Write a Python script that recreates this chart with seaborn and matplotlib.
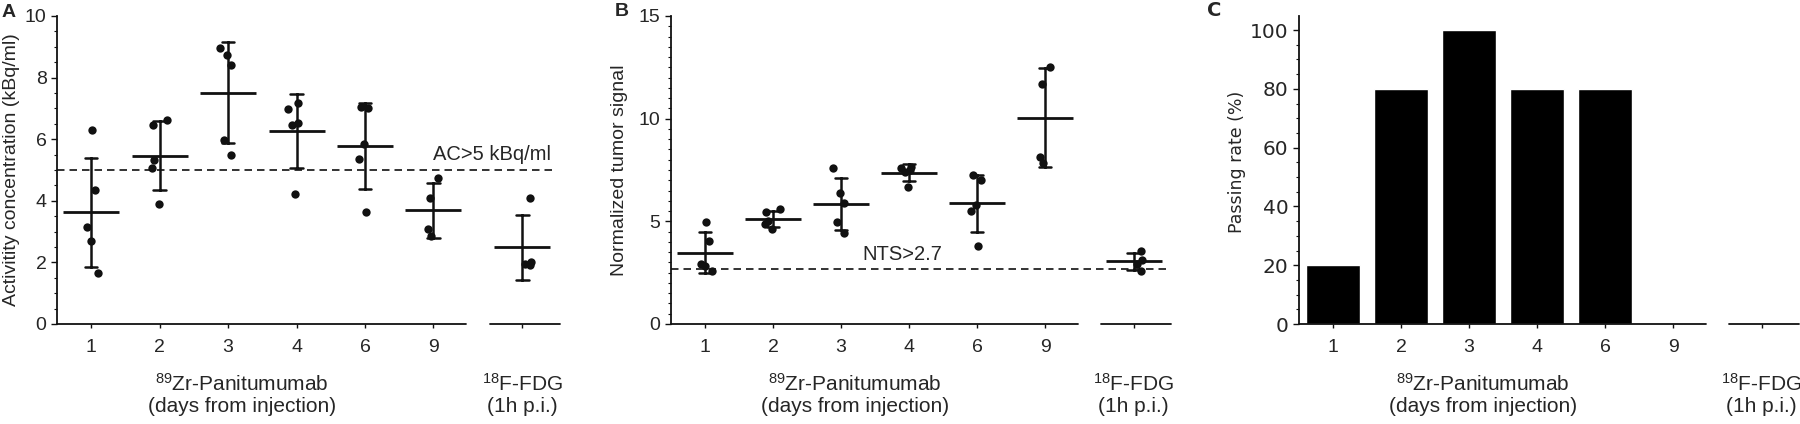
import numpy as np
import pandas as pd
import matplotlib
matplotlib.use("Agg")
import matplotlib.pyplot as plt
from matplotlib.ticker import MultipleLocator
import seaborn as sns

sns.set_style("ticks")
plt.rcParams["font.family"] = ["Liberation Sans", "DejaVu Sans"]
plt.rcParams["mathtext.default"] = "regular"

# ---------------------------------------------------------------
# data
# ---------------------------------------------------------------
groups = ["1", "2", "3", "4", "6", "9", "FDG"]
tick_labels = ["1", "2", "3", "4", "6", "9", ""]

# A: activity concentration (kBq/ml), one point per tumour
ac_d1 = [6.29, 4.35, 3.14, 2.70, 1.66]
ac_d2 = [6.62, 6.45, 5.34, 5.05, 3.89]
ac_d3 = [8.96, 8.72, 8.42, 5.97, 5.50]
ac_d4 = [7.16, 6.99, 6.53, 6.45, 4.21]
ac_d6 = [7.05, 7.02, 5.84, 5.35, 3.64]
ac_d9 = [4.75, 4.10, 3.07, 2.85]
ac_fdg = [4.08, 2.02, 1.95, 1.92]

# B: normalized tumor signal
nts_d1 = [4.95, 4.05, 2.92, 2.84, 2.59]
nts_d2 = [5.59, 5.46, 5.03, 4.86, 4.65]
nts_d3 = [7.62, 6.37, 5.87, 4.95, 4.41]
nts_d4 = [7.67, 7.62, 7.51, 7.38, 6.68]
nts_d6 = [7.26, 7.02, 5.81, 5.51, 3.81]
nts_d9 = [12.53, 11.67, 8.14, 7.83]
nts_fdg = [3.57, 3.13, 2.92, 2.56]

# C: passing rate (%)
passing_rate = [20, 80, 100, 80, 80, 0, 0]

ac_threshold = 5
nts_threshold = 2.7

# x positions: six days, then FDG set apart after a gap
x_pos = [0, 1, 2, 3, 4, 5, 6.3]
pos_of = dict(zip(groups, x_pos))


def long_frame(lists):
    rows = []
    for g, vals in zip(groups, lists):
        for v in vals:
            rows.append({"group": g, "pos": pos_of[g], "value": v})
    return pd.DataFrame(rows)


df_ac = long_frame([ac_d1, ac_d2, ac_d3, ac_d4, ac_d6, ac_d9, ac_fdg])
df_nts = long_frame([nts_d1, nts_d2, nts_d3, nts_d4, nts_d6, nts_d9, nts_fdg])

INK = "#111111"
W, H = 1800, 424
fig = plt.figure(figsize=(W / 100, H / 100), dpi=100)


def px_axes(left, width, bottom=324, top=16):
    return fig.add_axes([left / W, (H - bottom) / H, width / W, (bottom - top) / H])


def style_axis(ax, ymax, major, minor, tick_font=None, tick_size=14):
    ax.set_xlim(-0.5, 6.85)
    ax.set_ylim(0, ymax)
    sns.despine(ax=ax, bottom=True)
    ax.spines["left"].set_linewidth(1.3)
    ax.spines["left"].set_color(INK)
    ax.yaxis.set_major_locator(MultipleLocator(major))
    ax.yaxis.set_minor_locator(MultipleLocator(minor))
    ax.tick_params(axis="y", which="major", length=4, width=1, pad=3.5,
                   labelsize=tick_size, color=INK)
    ax.tick_params(axis="y", which="minor", length=2, width=0.8, color=INK)
    if tick_font:
        for t in ax.get_yticklabels():
            t.set_family(tick_font)
    ax.set_xticks(x_pos)
    ax.set_xticklabels(tick_labels)
    ax.tick_params(axis="x", length=3, width=1, pad=7.5, labelsize=14, color=INK)
    # broken x axis: main segment for the days, short one for FDG
    ax.plot([-0.5, 5.48], [0, 0], color=INK, lw=1.3, clip_on=False, zorder=5)
    ax.plot([5.82, 6.85], [0, 0], color=INK, lw=1.3, clip_on=False, zorder=5)
    ax.set_xlabel("")
    ax.text(2.2, -0.16, "$^{89}$Zr-Panitumumab\n(days from injection)",
            transform=ax.get_xaxis_transform(), ha="center", va="top",
            fontsize=15, linespacing=1.1)
    ax.text(6.3, -0.16, "$^{18}$F-FDG\n(1h p.i.)",
            transform=ax.get_xaxis_transform(), ha="center", va="top",
            fontsize=15, linespacing=1.1)


def scatter_panel(ax, df):
    np.random.seed(3)
    sns.stripplot(data=df, x="pos", y="value", native_scale=True, jitter=0.13,
                  color=INK, size=6, ax=ax, zorder=3)
    sns.pointplot(data=df, x="pos", y="value", native_scale=True, errorbar="sd",
                  linestyle="none", marker="_", markersize=40, markeredgewidth=2,
                  color=INK, capsize=0.18, err_kws={"linewidth": 1.8}, ax=ax)


# ---------------- A ----------------
axA = px_axes(57, 503)
scatter_panel(axA, df_ac)
axA.axhline(ac_threshold, color=INK, lw=1.2, ls=(0, (4.5, 3)), xmax=0.985)
axA.text(6.72, ac_threshold + 0.2, "AC>5 kBq/ml", ha="right", va="bottom", fontsize=14.5)
style_axis(axA, 10, 2, 0.5)
axA.set_ylabel("Activitity concentration (kBq/ml)", fontsize=14)
axA.yaxis.set_label_coords(-0.074, 0.5)

# ---------------- B ----------------
axB = px_axes(671, 500)
scatter_panel(axB, df_nts)
axB.axhline(nts_threshold, color=INK, lw=1.2, ls=(0, (4.5, 3)))
axB.text(2.9, nts_threshold + 0.2, "NTS>2.7", ha="center", va="bottom", fontsize=14.5)
style_axis(axB, 15, 5, 0.5)
axB.set_ylabel("Normalized tumor signal", fontsize=14)
axB.yaxis.set_label_coords(-0.086, 0.5)

# ---------------- C ----------------
axC = px_axes(1299, 500)
sns.barplot(x=x_pos, y=passing_rate, native_scale=True, color="black",
            saturation=1, width=0.8, errorbar=None, ax=axC)
style_axis(axC, 104.8, 20, 5, tick_font="DejaVu Sans", tick_size=14.5)
axC.set_ylabel("Passing rate (%)", fontsize=12.5, family="DejaVu Sans")
axC.yaxis.set_label_coords(-0.106, 0.525)

# panel letters
fig.text(2 / W, 1 - 4 / H, "A", fontsize=14, fontweight="bold", va="top")
fig.text(615 / W, 1 - 3 / H, "B", fontsize=14, fontweight="bold", va="top")
fig.text(1207 / W, 1 - 1 / H, "C", fontsize=14, fontweight="bold", va="top",
         family="DejaVu Sans")

fig.savefig("out.png", dpi=100)
